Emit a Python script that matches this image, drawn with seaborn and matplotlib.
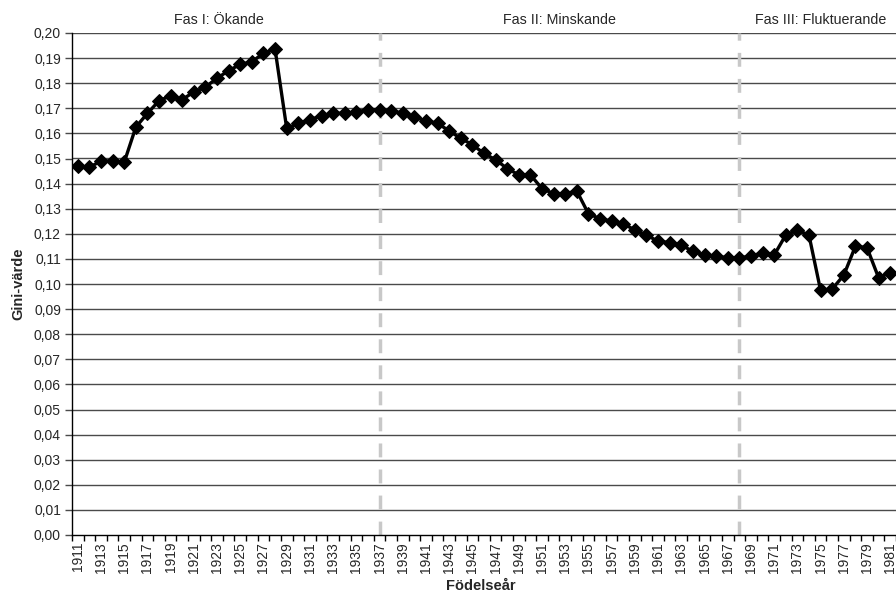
import matplotlib
matplotlib.use("Agg")
import matplotlib.pyplot as plt
import seaborn as sns
import pandas as pd
import numpy as np

years = list(range(1911, 1982))
gini = [
    0.147, 0.1465, 0.149, 0.149, 0.1485, 0.1625, 0.168, 0.173, 0.175, 0.1735,
    0.1765, 0.1785, 0.182, 0.185, 0.1875, 0.1885, 0.192, 0.1935, 0.162, 0.164,
    0.1655, 0.167, 0.168, 0.168, 0.1685, 0.1695, 0.1695, 0.169, 0.168, 0.1665,
    0.165, 0.164, 0.161, 0.158, 0.1555, 0.152, 0.1495, 0.146, 0.1435, 0.1435,
    0.138, 0.136, 0.136, 0.137, 0.128, 0.126, 0.125, 0.124, 0.1215, 0.1195,
    0.117, 0.1165, 0.1155, 0.113, 0.1115, 0.111, 0.1105, 0.1105, 0.111, 0.1125,
    0.1115, 0.1195, 0.1215, 0.1195, 0.0975, 0.098, 0.1035, 0.115, 0.1145, 0.1025,
    0.1045,
]
phase_breaks = [1937, 1968]
phase_labels = ["Fas I: Ökande", "Fas II: Minskande", "Fas III: Fluktuerande"]
phase_label_years = [1923.2, 1952.5, 1975.0]

sns.set_style("white")
plt.rcParams["font.family"] = ["Liberation Sans", "DejaVu Sans"]

df = pd.DataFrame({"pos": np.arange(len(years)), "year": years, "gini": gini})

fig = plt.figure(figsize=(8.96, 5.94), dpi=100)
ax = fig.add_axes([72 / 896, 1 - 535 / 594, 1 - 72 / 896, (535 - 33) / 594])

# horizontal gridlines
for v in np.arange(0.01, 0.201, 0.01):
    ax.axhline(v, color="#4a4a4a", lw=1.0, zorder=1)

# phase separators
for y in phase_breaks:
    ax.axvline(years.index(y), color="#c8c8c8", lw=2.5, ls=(0, (4, 3.5)), zorder=1)

sns.lineplot(data=df, x="pos", y="gini", ax=ax, color="black", lw=2.4,
             marker="D", markersize=6.8, markeredgecolor="black", zorder=3)

ax.set_xlim(-0.5, len(years) - 0.5)
ax.set_ylim(0, 0.2)

yt = np.round(np.arange(0, 0.201, 0.01), 2)
ax.set_yticks(yt)
ax.set_yticklabels([f"{v:.2f}".replace(".", ",") for v in yt], fontsize=10)
ax.tick_params(axis="y", length=5, width=1, color="#4a4a4a", pad=3, direction="out", left=True)

ax.set_xticks(np.arange(0, len(years), 2))
ax.set_xticklabels([str(y) for y in years[::2]], rotation=90, fontsize=10)
ax.set_xticks(np.arange(-0.5, len(years), 1), minor=True)
ax.tick_params(axis="x", which="major", length=0, pad=5)
ax.tick_params(axis="x", which="minor", length=4, width=1, color="black", direction="out", bottom=True)

for s in ["top", "right"]:
    ax.spines[s].set_visible(False)
for s in ["left", "bottom"]:
    ax.spines[s].set_color("black")
    ax.spines[s].set_linewidth(1)

ax.set_xlabel("")
fig.text((72 + 896) / 2 / 896 - 0.003, 1 - 586 / 594, "Födelseår", fontsize=10.5,
         fontweight="bold", ha="center", va="center")
ax.set_ylabel("Gini-värde", fontsize=10.5, fontweight="bold", labelpad=6)

for lab, yr in zip(phase_labels, phase_label_years):
    ax.text(yr - years[0], 0.2022, lab, ha="center", va="bottom", fontsize=10.3)

fig.savefig("out.png", dpi=100)
